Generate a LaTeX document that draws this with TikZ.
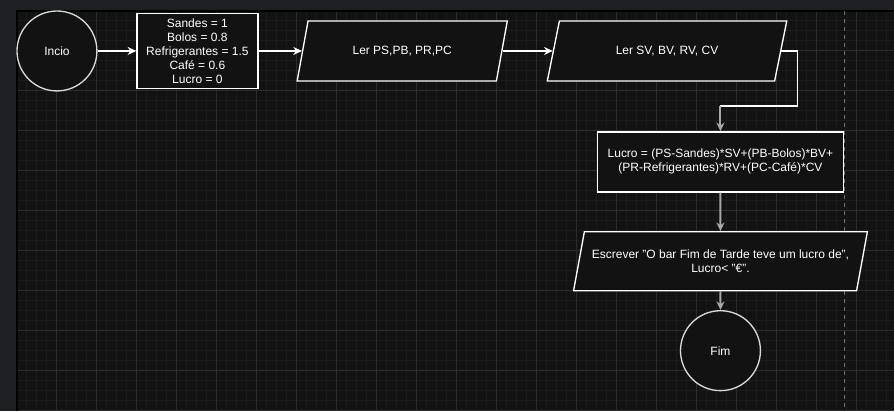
\documentclass[tikz,border=0pt]{standalone}
\usepackage{fontspec}
\setmainfont{Liberation Sans}
\usetikzlibrary{shapes.geometric,arrows.meta}

\definecolor{fundo}{HTML}{121212}
\definecolor{barra}{HTML}{1E1F22}
\definecolor{grelhafina}{HTML}{1B1B1B}
\definecolor{grelhagrossa}{HTML}{2C2C2C}
\definecolor{cinza}{HTML}{A8A8A8}

\tikzset{
  caixa/.style={draw=white, fill=fundo, text=white, line width=1pt, align=center},
  terminal/.style={caixa, draw=white!85!black, circle, minimum size=60pt, inner sep=0pt},
  processo/.style={caixa, rectangle},
  entrada/.style={caixa, trapezium, trapezium left angle=71.57, trapezium right angle=108.43,
    trapezium stretches=true, minimum height=45pt},
  seta/.style={->, white, line width=1pt},
  setacinza/.style={->, cinza, line width=1.5pt},
}

\begin{document}
\begin{tikzpicture}[x=0.75pt, y=-0.75pt, >={Stealth[length=6.5pt,width=6pt]},
    font=\fontsize{9}{10.5}\selectfont]
        % fundo e grelha
        \fill[barra] (0,0) rectangle (895,411);
        \fill[fundo] (17,11) rectangle (895,411);
        \begin{scope}[shift={(17,11)}]
            \draw[grelhafina, line width=0.75pt, step=7.5pt] (0,0) grid (878,400);
            \draw[grelhagrossa, line width=0.75pt, step=30pt] (0,0) grid (878,400);
        \end{scope}
        \draw[black, line width=1pt] (17,411) -- (17,11) -- (895,11);
        \draw[grelhagrossa!70!white, line width=0.75pt, dash pattern=on 3pt off 3pt] (845,11) -- (845,411);

        % início e valores fixos
        \node[terminal] (inicio) at (57,51) {Incio};
        \node[processo, minimum width=90.75pt, minimum height=56.25pt, inner sep=1pt,
            right of=inicio, node distance=105.4pt] (valores)
            {Sandes = 1\\Bolos = 0.8\\Refrigerantes = 1.5\\Café = 0.6\\Lucro = 0};

        % leituras
        \node[entrada, minimum width=158.25pt, right of=valores, node distance=153.75pt] (le1) {Ler PS,PB, PR,PC};
        \node[entrada, minimum width=180.75pt, right of=le1, node distance=198.75pt] (le2) {Ler SV, BV, RV, CV};

        % cálculo do lucro
        \node[processo, minimum width=184.5pt, minimum height=45pt] (calc) at (721,162)
            {Lucro = (PS-Sandes)*SV+(PB-Bolos)*BV+\\(PR-Refrigerantes)*RV+(PC-Café)*CV};

        % saída e fim
        \node[entrada, minimum width=221.25pt, minimum height=44.25pt, below of=calc, node distance=74.6pt] (escreve)
            {Escrever "O bar Fim de Tarde teve um lucro de",\\Lucro< "€".};
        \node[terminal, below of=escreve, node distance=67.1pt] (fim) {Fim};

        % ligações
        \draw[seta] (inicio) -- (valores);
        \draw[seta] (valores) -- (le1.left side);
        \draw[seta] (le1.right side) -- (le2.left side);
        \coordinate (dobra) at (798,106);
        \coordinate (cotovelo) at (dobra -| calc.north);
        \draw[white, line width=1pt] (le2.right side) -| (dobra) -- (cotovelo);
        \draw[setacinza] (cotovelo) -- (calc.north);
        \draw[setacinza] (calc) -- (escreve);
        \draw[setacinza] (escreve) -- (fim);
    \end{tikzpicture}
\end{document}
